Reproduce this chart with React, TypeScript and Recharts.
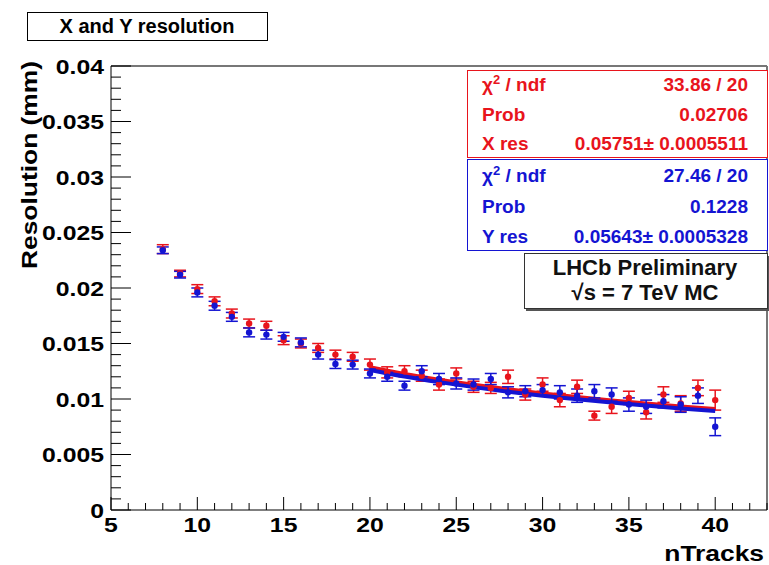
import React from 'react';
import { ComposedChart, Scatter, Line, XAxis, YAxis, ErrorBar, ReferenceLine } from 'recharts';

const nTracks = [8, 9, 10, 11, 12, 13, 14, 15, 16, 17, 18, 19, 20, 21, 22, 23, 24, 25, 26, 27, 28, 29, 30, 31, 32, 33, 34, 35, 36, 37, 38, 39, 40];
const xRes = [0.0235, 0.0213, 0.0199, 0.0188, 0.0177, 0.0168, 0.0166, 0.0153, 0.0150, 0.0146, 0.0140, 0.0138, 0.0131, 0.0124, 0.0125, 0.0121, 0.0113, 0.0123, 0.0111, 0.0110, 0.0120, 0.0104, 0.0113, 0.0099, 0.0111, 0.0085, 0.0093, 0.0101, 0.0088, 0.0104, 0.0096, 0.0110, 0.0099];
const xErr = [0.0004, 0.0003, 0.0004, 0.0004, 0.0004, 0.0004, 0.0004, 0.0004, 0.0004, 0.0004, 0.0004, 0.0004, 0.0005, 0.0005, 0.0005, 0.0005, 0.0005, 0.0005, 0.0005, 0.0005, 0.0006, 0.0005, 0.0006, 0.0006, 0.0006, 0.0004, 0.0006, 0.0006, 0.0006, 0.0007, 0.0007, 0.0007, 0.0009];
const yRes = [0.0234, 0.0212, 0.0196, 0.0184, 0.0174, 0.0160, 0.0158, 0.0156, 0.0151, 0.0140, 0.01315, 0.0131, 0.0123, 0.0120, 0.0112, 0.0125, 0.0118, 0.0114, 0.0113, 0.0118, 0.0106, 0.0107, 0.0108, 0.0106, 0.0103, 0.0107, 0.0104, 0.0095, 0.0093, 0.0098, 0.0095, 0.0103, 0.0075];
const yErr = [0.0003, 0.0003, 0.0004, 0.0004, 0.0004, 0.0004, 0.0004, 0.0004, 0.0004, 0.0004, 0.0004, 0.0004, 0.0004, 0.0004, 0.0004, 0.0005, 0.0005, 0.0005, 0.0005, 0.0005, 0.0005, 0.0005, 0.0005, 0.0006, 0.0006, 0.0006, 0.0006, 0.0006, 0.0006, 0.0006, 0.0007, 0.0007, 0.0008];

const fitN = [20, 22, 24, 26, 28, 30, 32, 34, 36, 38, 40];
const xFit = [0.01286, 0.01226, 0.01174, 0.01128, 0.01087, 0.01050, 0.01017, 0.00986, 0.00959, 0.00933, 0.00909];
const yFit = [0.01262, 0.01203, 0.01152, 0.01107, 0.01066, 0.01030, 0.00998, 0.00968, 0.00941, 0.00915, 0.00892];

const yTicks = [0, 0.001, 0.002, 0.003, 0.004, 0.005, 0.006, 0.007, 0.008, 0.009, 0.01, 0.011, 0.012, 0.013, 0.014, 0.015, 0.016, 0.017, 0.018, 0.019, 0.02, 0.021, 0.022, 0.023, 0.024, 0.025, 0.026, 0.027, 0.028, 0.029, 0.03, 0.031, 0.032, 0.033, 0.034, 0.035, 0.036, 0.037, 0.038, 0.039, 0.04];
const yMajor = [0, 0.005, 0.01, 0.015, 0.02, 0.025, 0.03, 0.035, 0.04];
const yMajorLabels = ['0', '0.005', '0.01', '0.015', '0.02', '0.025', '0.03', '0.035', '0.04'];
const xTicks = [5, 6, 7, 8, 9, 10, 11, 12, 13, 14, 15, 16, 17, 18, 19, 20, 21, 22, 23, 24, 25, 26, 27, 28, 29, 30, 31, 32, 33, 34, 35, 36, 37, 38, 39, 40, 41, 42, 43];
const xMajor = [5, 10, 15, 20, 25, 30, 35, 40];
const xMajorLabels = ['5', '10', '15', '20', '25', '30', '35', '40'];

const RED = '#e8141c';
const BLUE = '#1414d2';
const FONT = '"Liberation Sans", Arial, Helvetica, sans-serif';

const xData = nTracks.map((n, i) => ({ x: n, y: xRes[i], err: xErr[i] }));
const yData = nTracks.map((n, i) => ({ x: n, y: yRes[i], err: yErr[i] }));
const xFitData = fitN.map((n, i) => ({ x: n, y: xFit[i] }));
const yFitData = fitN.map((n, i) => ({ x: n, y: yFit[i] }));

const YTick = (props: any) => {
  const { x, y, payload } = props;
  const idx = yMajor.findIndex((m) => Math.abs(m - payload.value) < 1e-7);
  const major = idx >= 0;
  return (
    <g>
      <line x1={x} x2={x + (major ? 20 : 10)} y1={y} y2={y} stroke="#000" strokeWidth={1} />
      {major && (
        <text transform={`translate(${x - 7},${y + 7.5}) scale(1.18,1)`} textAnchor="end" fontFamily={FONT} fontWeight="bold" fontSize={21} fill="#000">
          {yMajorLabels[idx]}
        </text>
      )}
    </g>
  );
};

const XTick = (props: any) => {
  const { x, y, payload } = props;
  const idx = xMajor.findIndex((m) => Math.abs(m - payload.value) < 1e-7);
  const major = idx >= 0;
  return (
    <g>
      <line x1={x} x2={x} y1={y} y2={y - (major ? 13 : 7)} stroke="#000" strokeWidth={1} />
      {major && (
        <text transform={`translate(${x},${y + 22}) scale(1.18,1)`} textAnchor="middle" fontFamily={FONT} fontWeight="bold" fontSize={21} fill="#000">
          {xMajorLabels[idx]}
        </text>
      )}
    </g>
  );
};

const dot = (color: string) => (p: any) => <circle cx={p.cx} cy={p.cy} r={3.2} fill={color} />;

export default function App() {
  return (
    <div style={{ position: 'absolute', left: 0, top: 0, width: 769, height: 565, background: '#fff', overflow: 'hidden' }}>
      <ComposedChart width={769} height={565} margin={{ top: 66, right: 2, bottom: 0, left: 0 }}>
        <XAxis
          type="number"
          dataKey="x"
          domain={[5, 43]}
          ticks={xTicks}
          interval={0}
          tickSize={0}
          tickMargin={0}
          tick={<XTick />}
          axisLine={{ stroke: '#000', strokeWidth: 1 }}
          height={55}
          allowDataOverflow
        />
        <YAxis
          type="number"
          domain={[0, 0.04]}
          ticks={yTicks}
          interval={0}
          tickSize={0}
          tickMargin={0}
          tick={<YTick />}
          axisLine={{ stroke: '#000', strokeWidth: 1 }}
          width={111}
          allowDataOverflow
        />
        <ReferenceLine y={0.04} stroke="#777" strokeWidth={2} />
        <ReferenceLine x={43} stroke="#777" strokeWidth={2} />
        <Scatter data={xData} dataKey="y" fill={RED} shape={dot(RED)} isAnimationActive={false}>
          <ErrorBar dataKey="err" direction="y" width={6} stroke={RED} strokeWidth={1.5} />
        </Scatter>
        <Line data={xFitData} dataKey="y" type="monotone" stroke={RED} strokeWidth={4} dot={false} isAnimationActive={false} />
        <Scatter data={yData} dataKey="y" fill={BLUE} shape={dot(BLUE)} isAnimationActive={false}>
          <ErrorBar dataKey="err" direction="y" width={6} stroke={BLUE} strokeWidth={1.5} />
        </Scatter>
        <Line data={yFitData} dataKey="y" type="monotone" stroke={BLUE} strokeWidth={4} dot={false} isAnimationActive={false} />
      </ComposedChart>
      <svg width={769} height={565} style={{ position: 'absolute', left: 0, top: 0, pointerEvents: 'none' }} fontFamily={FONT} fontWeight="bold">
        <rect x={27.5} y={12.5} width={240} height={28} fill="#fff" stroke="#000" strokeWidth={1} />
        <text x={147} y={33} textAnchor="middle" fontSize={20} fill="#000">X and Y resolution</text>
        <text transform="translate(37,165) rotate(-90) scale(1.2,1)" textAnchor="middle" fontSize={22} fill="#000">Resolution (mm)</text>
        <text transform="translate(764,561) scale(1.2,1)" textAnchor="end" fontSize={22} fill="#000">nTracks</text>

        <rect x={467.5} y={70.5} width={300} height={87} fill="#fff" stroke={RED} strokeWidth={1} />
        <text x={482} y={91} fontSize={19} fill={RED}>χ<tspan dy={-7} fontSize={13}>2</tspan><tspan dy={7}> / ndf</tspan></text>
        <text x={748} y={91} textAnchor="end" fontSize={19} fill={RED}>33.86 / 20</text>
        <text x={482} y={121} fontSize={19} fill={RED}>Prob</text>
        <text x={748} y={121} textAnchor="end" fontSize={19} fill={RED}>0.02706</text>
        <text x={482} y={150} fontSize={19} fill={RED}>X res</text>
        <text x={748} y={150} textAnchor="end" fontSize={19} fill={RED}>0.05751± 0.0005511</text>

        <rect x={467.5} y={159.5} width={300} height={91} fill="#fff" stroke={BLUE} strokeWidth={1} />
        <text x={482} y={182} fontSize={19} fill={BLUE}>χ<tspan dy={-7} fontSize={13}>2</tspan><tspan dy={7}> / ndf</tspan></text>
        <text x={748} y={182} textAnchor="end" fontSize={19} fill={BLUE}>27.46 / 20</text>
        <text x={482} y={213} fontSize={19} fill={BLUE}>Prob</text>
        <text x={748} y={213} textAnchor="end" fontSize={19} fill={BLUE}>0.1228</text>
        <text x={482} y={243} fontSize={19} fill={BLUE}>Y res</text>
        <text x={748} y={243} textAnchor="end" fontSize={19} fill={BLUE}>0.05643± 0.0005328</text>

        <rect x={526} y={256} width={243} height={55} fill="#555" />
        <rect x={524.5} y={253.5} width={243} height={55} fill="#fff" stroke="#333" strokeWidth={1} />
        <text x={645} y={275} textAnchor="middle" fontSize={22} fill="#111">LHCb Preliminary</text>
        <text x={645} y={300} textAnchor="middle" fontSize={22} fill="#111">√s = 7 TeV MC</text>
      </svg>
    </div>
  );
}
